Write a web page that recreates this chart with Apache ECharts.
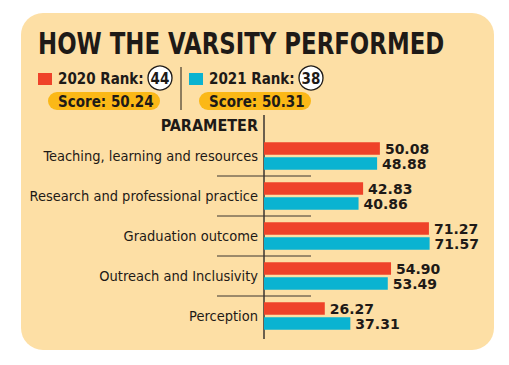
<!DOCTYPE html>
<html><head><meta charset="utf-8">
<script src="https://cdn.jsdelivr.net/npm/echarts@6/dist/echarts.min.js"></script>
<style>html,body{margin:0;padding:0;background:#fff}#c{width:509px;height:365px}</style>
</head><body><div id="c"></div>
<script>
const categories = ["Teaching, learning and resources","Research and professional practice","Graduation outcome","Outreach and Inclusivity","Perception"];
const values2020 = [50.08, 42.83, 71.27, 54.90, 26.27];
const values2021 = [48.88, 40.86, 71.57, 53.49, 37.31];
const seriesNames = ["2020","2021"];
const ranks = ["44","38"];
const scores = ["50.24","50.31"];
const titleText = "HOW THE VARSITY PERFORMED";
const axisTitle = "PARAMETER";

const RED = "#EF4229", CYAN = "#0AB3D1", BG = "#FDDFA5", PILL = "#FBB817", INK = "#1e1a17";
const COND = "'DejaVu Sans Condensed','DejaVu Sans',sans-serif";
const chart = echarts.init(document.getElementById('c'), null, {renderer:'svg'});

function header(x, color, idx){
  return [
    {type:'rect', shape:{x:x, y:73, width:14, height:12}, style:{fill:color}},
    {type:'text', x:x+20, y:79, style:{text:seriesNames[idx]+' Rank:', font:"bold 15px "+COND, fill:INK, textVerticalAlign:'middle'}},
    {type:'circle', shape:{cx:x+122, cy:78, r:12}, style:{fill:'#fff', stroke:INK, lineWidth:1.3}},
    {type:'text', x:x+122, y:79, style:{text:ranks[idx], font:"bold 15px "+COND, fill:INK, textAlign:'center', textVerticalAlign:'middle'}},
    {type:'rect', shape:{x:x+10, y:92, width:112, height:18, r:9}, style:{fill:PILL}},
    {type:'text', x:x+20, y:101.5, style:{text:'Score: '+scores[idx], font:"bold 15px "+COND, fill:INK, textVerticalAlign:'middle'}}
  ];
}

const lbl = {show:true, position:'right', distance:5, color:INK, fontFamily:"'DejaVu Sans',sans-serif", fontWeight:'bold', fontSize:14, lineHeight:13, formatter:p=>p.value.toFixed(2)};

chart.setOption({
  animation:false,
  backgroundColor:'#fff',
  grid:{left:264, top:136, height:200, right:13.6, containLabel:false},
  xAxis:{type:'value', min:0, max:100, show:false},
  yAxis:{type:'category', data:categories, inverse:true,
    axisLine:{show:false}, axisTick:{show:false},
    axisLabel:{margin:6, color:INK, fontSize:14.5, fontFamily:COND}},
  series:[
    {name:seriesNames[0], type:'bar', data:values2020, barWidth:12.5, barGap:'20%', itemStyle:{color:RED}, label:lbl},
    {name:seriesNames[1], type:'bar', data:values2021, barWidth:12.5, barGap:'20%', itemStyle:{color:CYAN}, label:lbl}
  ]
});

const g = [
  {type:'rect', z:-10, shape:{x:21, y:13, width:473, height:337, r:22}, style:{fill:BG}},
  {type:'text', x:38, y:44, scaleX:0.82, style:{text:titleText, font:"bold 31px "+COND, fill:INK, textVerticalAlign:'middle'}},
  {type:'line', shape:{x1:181, y1:67, x2:181, y2:110}, style:{stroke:INK, lineWidth:1}},
  {type:'text', x:258, y:125, style:{text:axisTitle, font:"bold 16px "+COND, fill:INK, textAlign:'right', textVerticalAlign:'middle'}},
  {type:'line', shape:{x1:264, y1:115, x2:264, y2:339}, style:{stroke:'#3a3530', lineWidth:1.5}}
].concat(header(38, RED, 0), header(189, CYAN, 1));
for (let i=1;i<categories.length;i++){
  const y = (chart.convertToPixel({yAxisIndex:0}, i-1) + chart.convertToPixel({yAxisIndex:0}, i))/2;
  g.push({type:'line', shape:{x1:217, y1:y, x2:311, y2:y}, style:{stroke:'#3a3530', lineWidth:1}});
}
chart.setOption({graphic:g});
</script></body></html>
